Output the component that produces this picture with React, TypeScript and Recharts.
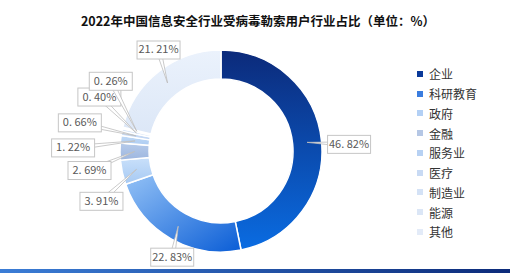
import { PieChart, Pie, Cell, Legend } from 'recharts'

const categories = ['企业', '科研教育', '政府', '金融', '服务业', '医疗', '制造业', '能源', '其他']
const shares = [46.82, 22.83, 3.91, 2.69, 1.22, 0.66, 0.4, 0.26, 21.21]

// gradient stops per slice (start, end) and the flat swatch used in the legend
const gradFrom = ['#0c2a7a', '#94c2f6', '#c9e0fa', '#b6cbea', '#c0d9f6', '#cfe0f6', '#d9e6f8', '#e1ebf9', '#ebf2fc']
const gradTo = ['#0a6ce2', '#0a5dd6', '#a6c9f3', '#9db6df', '#aecdf2', '#bfd4f2', '#cbdcf4', '#d5e3f6', '#dce7f7']
const swatch = ['#0a3a9a', '#3b7ddf', '#b3d0f5', '#b5c7e5', '#b7d1f3', '#c8daf4', '#d4e2f6', '#dbe6f6', '#e3ebf8']

// callout box offsets from the slice anchor (dx, dy)
const labelOffsets: [number, number][] = [
  [42, 2],
  [-6, 31],
  [-35, 32],
  [-45, 19],
  [-62, 7],
  [-56, -13],
  [-37, -36],
  [-26, -50],
  [-9, -33],
]

const data = categories.map((name, i) => ({ name, value: shares[i] }))

const RAD = Math.PI / 180
const BOX_W = 43
const BOX_H = 18

function renderLabel(props: any) {
  const { cx, cy, midAngle, innerRadius, outerRadius, index, value } = props
  const r = (innerRadius + outerRadius) / 2
  const ax = cx + r * Math.cos(-midAngle * RAD)
  const ay = cy + r * Math.sin(-midAngle * RAD)
  const [dx, dy] = labelOffsets[index]
  const bx = ax + dx
  const by = ay + dy
  const len = Math.hypot(dx, dy) || 1
  const nx = (-dy / len) * 2.5
  const ny = (dx / len) * 2.5
  const text = `${Number(value).toFixed(2).replace('.', '. ')}%`
  return (
    <g key={`lbl-${index}`}>
      <polygon
        points={`${ax},${ay} ${bx + nx},${by + ny} ${bx - nx},${by - ny}`}
        fill="#ffffff"
        stroke="#bdbdbd"
        strokeWidth={0.8}
      />
      <rect
        x={bx - BOX_W / 2}
        y={by - BOX_H / 2}
        width={BOX_W}
        height={BOX_H}
        fill="#ffffff"
        stroke="#c6c6c6"
        strokeWidth={1}
      />
      <text
        x={bx}
        y={by + 0.5}
        textAnchor="middle"
        dominantBaseline="middle"
        fontSize={11}
        fill="#595959"
        fontFamily="'Noto Sans CJK SC', sans-serif"
      >
        {text}
      </text>
    </g>
  )
}

function LegendList() {
  return (
    <div style={{ fontFamily: "'Noto Sans CJK SC', sans-serif", fontSize: 12, color: '#333' }}>
      {categories.map((c, i) => (
        <div key={c} style={{ display: 'flex', alignItems: 'center', height: 19.75 }}>
          <span style={{ width: 6, height: 6, background: swatch[i], marginRight: 6, display: 'inline-block' }} />
          <span>{c}</span>
        </div>
      ))}
    </div>
  )
}

export default function App() {
  return (
    <div style={{ position: 'fixed', left: 0, top: 0, width: 510, height: 273, background: '#fff' }}>
      <div
        style={{
          position: 'absolute',
          left: 0,
          top: 11,
          width: 516,
          textAlign: 'center',
          fontFamily: "'Noto Sans CJK SC', sans-serif",
          fontWeight: 700,
          fontSize: 12.5,
          color: '#111',
        }}
      >
        2022年中国信息安全行业受病毒勒索用户行业占比（单位：%）
      </div>
      <PieChart width={510} height={273} margin={{ top: 0, right: 0, bottom: 0, left: 0 }}>
        <defs>
          {categories.map((_, i) => (
            <linearGradient
              key={i}
              id={`sg${i}`}
              x1="0"
              y1="0"
              x2={i === 1 ? '1' : '0'}
              y2="1"
            >
              <stop offset="0%" stopColor={gradFrom[i]} />
              <stop offset="100%" stopColor={gradTo[i]} />
            </linearGradient>
          ))}
        </defs>
        <Pie
          data={data}
          dataKey="value"
          nameKey="name"
          cx={221}
          cy={151}
          innerRadius={72}
          outerRadius={101}
          startAngle={90}
          endAngle={-270}
          stroke="#ffffff"
          strokeWidth={1.5}
          label={renderLabel}
          labelLine={false}
          isAnimationActive={false}
        >
          {data.map((d, i) => (
            <Cell key={d.name} fill={`url(#sg${i})`} />
          ))}
        </Pie>
        <Legend
          layout="vertical"
          align="right"
          verticalAlign="middle"
          content={() => <LegendList />}
          wrapperStyle={{ left: 417, top: 64, right: 'auto', width: 90 }}
        />
      </PieChart>
      <div
        style={{
          position: 'absolute',
          left: 0,
          top: 269,
          width: 510,
          height: 4,
          background: 'linear-gradient(90deg, #3b7dd6, #0c2b7a)',
        }}
      />
    </div>
  )
}
